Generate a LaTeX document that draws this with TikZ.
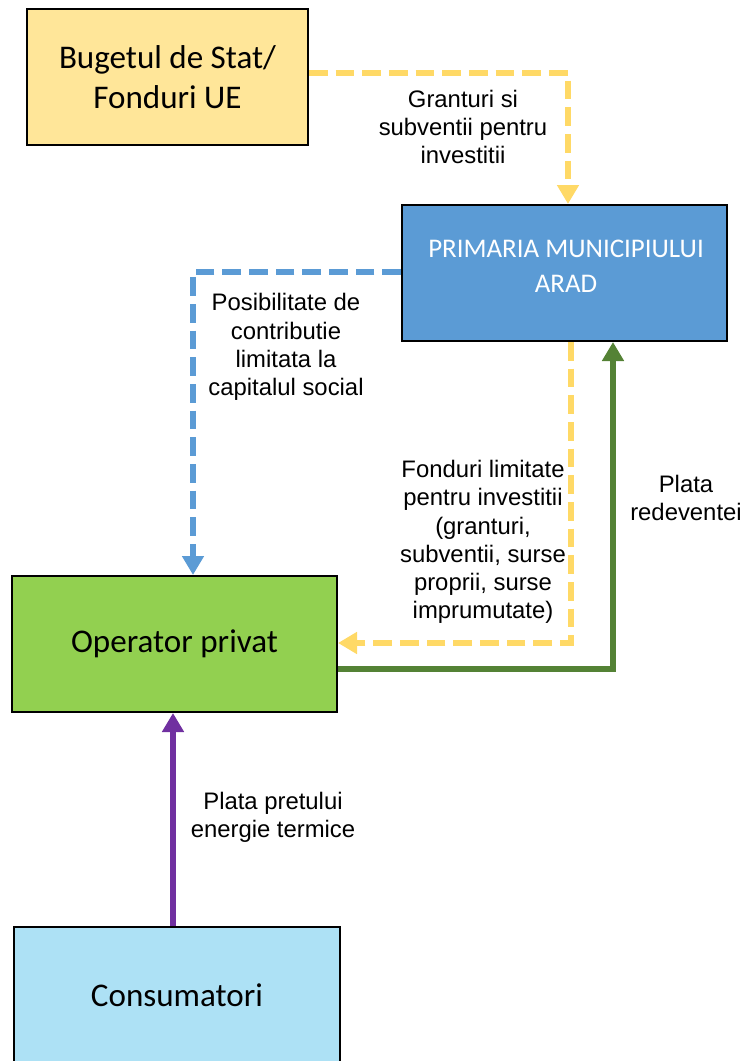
\documentclass[tikz,border=0pt]{standalone}
\usepackage{fontspec}
\setmainfont{Carlito}
\newfontfamily\arialf{Liberation Sans}
\usetikzlibrary{arrows.meta}
\definecolor{bugfill}{HTML}{FFE699}
\definecolor{primfill}{HTML}{5B9BD5}
\definecolor{opfill}{HTML}{92D050}
\definecolor{consfill}{HTML}{ADE1F5}
\definecolor{yline}{HTML}{FFD966}
\definecolor{bline}{HTML}{5B9BD5}
\definecolor{gline}{HTML}{548235}
\definecolor{pline}{HTML}{7030A0}
\begin{document}
\begin{tikzpicture}[x=0.75pt,y=-0.75pt,
  box/.style={draw=black,line width=1.5pt,rectangle,inner sep=0pt,align=center,
    font=\fontsize{24.8}{30}\selectfont},
  tip/.style={-{Triangle[width=15.75pt,length=14.25pt]}},
  ydash/.style={tip,draw=yline,line width=4.2pt,dash pattern=on 14pt off 6pt},
  bdash/.style={tip,draw=bline,line width=4.2pt,dash pattern=on 14pt off 6pt},
  garrow/.style={tip,draw=gline,line width=4.8pt},
  parrow/.style={tip,draw=pline,line width=4.8pt},
  lbl/.style={align=center,inner sep=0pt,font=\arialf\fontsize{17.9}{21.2}\selectfont}]
\useasboundingbox (0,0) rectangle (746,1061);

\node[box,fill=bugfill,minimum width=210.75pt,minimum height=102pt] (bug) at (167.5,77) {Bugetul de Stat/\\Fonduri UE};
\node[box,fill=primfill,minimum width=243.75pt,minimum height=102pt] (prim) at (564.5,273) {};
\node[align=center,inner sep=0pt,text=white,font=\fontsize{20.2}{26}\selectfont] (primtext) at (566,266) {PRIMARIA MUNICIPIULUI\\ARAD};
\node[box,fill=opfill,minimum width=243.75pt,minimum height=102pt] (op) at (174.5,644) {Operator privat};
\begin{scope}
\clip (0,0) rectangle (746,1061);
\node[box,fill=consfill,minimum width=244.5pt,minimum height=102pt] (cons) at (177,995) {Consumatori};
\end{scope}

\draw[ydash] (bug.east |- 0,73) -| (prim.north -| 568,0);
\draw[bdash] (prim.west |- 0,272) -| (op.north -| 193,0);
\draw[ydash] (prim.south -| 571,0) |- (op.east |- 0,643);
\draw[garrow] (op.east |- 0,669) -| (prim.south -| 613,0);
\draw[parrow] (cons.north -| 173,0) -- (op.south -| 173,0);

\node[lbl] (l1) at (463,127) {Granturi si\\subventii pentru\\investitii};
\node[lbl] (l2) at (286,347) {Posibilitate de\\contributie\\limitata la\\capitalul social};
\node[lbl] (l3) at (483,542) {Fonduri limitate\\pentru investitii\\(granturi,\\subventii, surse\\proprii, surse\\imprumutate)};
\node[lbl] (l4) at (686,498) {Plata\\redeventei};
\node[lbl] (l5) at (273,817) {Plata pretului\\energie termice};
\end{tikzpicture}
\end{document}
